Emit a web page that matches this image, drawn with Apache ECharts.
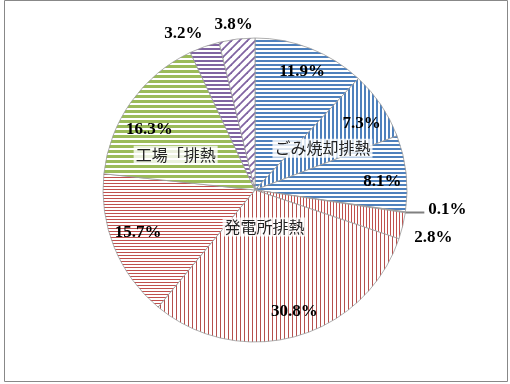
<!DOCTYPE html>
<html>
<head>
<meta charset="utf-8">
<script src="https://cdn.jsdelivr.net/npm/echarts@6/dist/echarts.min.js"></script>
<style>
html,body{margin:0;padding:0;background:#fff;}
#chart{width:510px;height:384px;}
</style>
</head>
<body>
<div id="chart"></div>
<script>
// ---- data ----
const sliceIds = ['s1','s2','s3','s4','s5','s6','s7','s8','s9','s10'];
const values = [11.9, 7.3, 8.1, 0.1, 2.8, 30.8, 15.7, 16.3, 3.2, 3.8];
const pctLabels = ['11.9%','7.3%','8.1%','0.1%','2.8%','30.8%','15.7%','16.3%','3.2%','3.8%'];
const groupLabels = ['', 'ごみ焼却排熱', '', '', '', '発電所排熱', '', '工場「排熱', '', ''];

// ---- which label style per slice ----
const innerIdx = [0,1,2,5,6,7];
const outerIdx = [4,8,9];
const leaderIdx = [3];

// label fine-tuning (dx, dy) in px
const innerShift = {0:[1,-0.5],1:[2,4],2:[2,5],5:[5,0],6:[0,-5],7:[-3,13]};
const outerShift = {4:[13,7.5],8:[-15,4.5],9:[-1,4]};
const groupShift = {1:[2,2.5],5:[-12,-39],7:[-15,11]};

// ---- patterns ----
function tile(w,h,draw){
  const c=document.createElement('canvas'); c.width=w; c.height=h;
  const g=c.getContext('2d'); g.fillStyle='#fff'; g.fillRect(0,0,w,h); draw(g);
  return {image:c, repeat:'repeat'};
}
const BLUE='#4F81BD', RED='#C0504D', GREEN='#9BBB59', PURPLE='#8064A2';
const hStripe=(col,period,on)=>tile(8,period,g=>{g.fillStyle=col;g.fillRect(0,0,8,on);});
const vStripe=(col,period,on)=>tile(period,8,g=>{g.fillStyle=col;g.fillRect(0,0,on,8);});
const diag=(col)=>tile(8,8,g=>{g.strokeStyle=col;g.lineWidth=1.8;
  for(const o of [-8,0,8]){g.beginPath();g.moveTo(o-1,9);g.lineTo(o+9,-1);g.stroke();}});
const fills=[
  hStripe(BLUE,4,2),
  vStripe(BLUE,4,2),
  hStripe(BLUE,4,2),
  '#A5A5A5',
  vStripe(RED,3,1),
  vStripe('#B5504D',4,1),
  hStripe(RED,3,1),
  hStripe(GREEN,5,3),
  hStripe(PURPLE,4,2),
  diag(PURPLE)
];

const CX=255, CY=190, R=152;
const pctFont={fontFamily:'Liberation Serif',fontWeight:'bold',fontSize:17,color:'#000'};
const transparent={color:'rgba(0,0,0,0)',borderWidth:0};

function shiftLayout(map){
  return function(p){const s=map[p.dataIndex]; return s?{dx:s[0],dy:s[1]}:{};};
}

const chart=echarts.init(document.getElementById('chart'),null,{renderer:'canvas'});
chart.setOption({
  animation:false,
  backgroundColor:'#fff',
  graphic:[{type:'rect',shape:{x:4.5,y:0.5,width:503,height:381},style:{fill:'none',stroke:'#888',lineWidth:1},silent:true}],
  series:[
    { // main pie
      type:'pie', center:[CX,CY], radius:[0,R], startAngle:90, clockwise:true,
      avoidLabelOverlap:false, silent:true,
      itemStyle:{borderColor:'#9a9a9a',borderWidth:0.8},
      data:values.map((v,i)=>({name:sliceIds[i],value:v,itemStyle:{color:fills[i]},
        label:{show:leaderIdx.includes(i)}, labelLine:{show:leaderIdx.includes(i)}})),
      label:Object.assign({position:'outside',formatter:p=>pctLabels[p.dataIndex],distanceToLabelLine:4},pctFont),
      labelLine:{length:1,length2:18,smooth:false,lineStyle:{color:'#808080',width:2}},
      labelLayout:function(){return {dy:-3};},
      emphasis:{disabled:true}
    },
    { // inner percentage labels
      type:'pie', center:[CX,CY], radius:[R*0.62,R], startAngle:90, silent:true,
      avoidLabelOverlap:false, itemStyle:transparent,
      data:values.map((v,i)=>({name:sliceIds[i],value:v,label:{show:innerIdx.includes(i)}})),
      label:Object.assign({position:'inside',rotate:0,formatter:p=>pctLabels[p.dataIndex]},pctFont),
      labelLine:{show:false},
      labelLayout:shiftLayout(innerShift),
      emphasis:{disabled:true}
    },
    { // outer percentage labels
      type:'pie', center:[CX,CY], radius:[R,R*1.2], startAngle:90, silent:true,
      avoidLabelOverlap:false, itemStyle:transparent,
      data:values.map((v,i)=>({name:sliceIds[i],value:v,label:{show:outerIdx.includes(i)}})),
      label:Object.assign({position:'inside',rotate:0,formatter:p=>pctLabels[p.dataIndex]},pctFont),
      labelLine:{show:false},
      labelLayout:shiftLayout(outerShift),
      emphasis:{disabled:true}
    },
    { // group name labels
      type:'pie', center:[CX,CY], radius:[0,R], startAngle:90, silent:true,
      avoidLabelOverlap:false, itemStyle:transparent,
      data:values.map((v,i)=>({name:sliceIds[i],value:v,label:{show:groupLabels[i]!==''}})),
      label:{position:'inside',rotate:0,formatter:p=>groupLabels[p.dataIndex],
        fontFamily:'Noto Sans CJK JP',fontSize:16,color:'#222',
        backgroundColor:'rgba(255,255,255,0.8)',padding:[2,2,1,2]},
      labelLine:{show:false},
      labelLayout:shiftLayout(groupShift),
      emphasis:{disabled:true}
    }
  ]
});
</script>
</body>
</html>
